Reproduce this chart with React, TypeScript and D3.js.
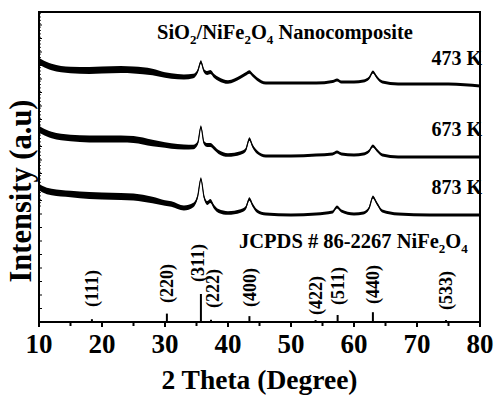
import React from 'react';
import * as d3 from 'd3';

// ---------- data ----------
const thetaGrid = [10, 10.5, 12, 15, 18, 20, 23, 25, 28, 30, 31, 33, 34.5, 35.2, 35.7, 36.2, 36.7, 37.2, 37.8, 38.5, 40, 42, 42.8, 43.4, 43.9, 44.6, 46, 50, 54, 56.6, 57.3, 58, 60, 61.5, 62.4, 63, 63.6, 64.5, 67, 72, 75, 80];
const int473 = [261, 259, 255, 252, 251.5, 252, 252.5, 252, 250, 247, 246, 245, 246, 251, 260, 251, 249, 250, 246, 243, 240, 245, 248, 250, 247, 243, 239, 239, 239, 240.5, 242, 240, 240, 241, 244, 250, 245, 240, 238, 238, 238, 236];
const int673 = [193, 191, 187, 184, 183, 183, 183, 182.5, 179, 177, 176, 175, 175, 179, 195, 179, 177, 177, 174, 170, 167, 169, 172, 183, 176, 170, 166, 166, 167, 168, 170, 168, 167, 168, 171, 176, 172, 167, 165, 165, 165, 165];
const int873 = [135, 133, 130, 128, 126.5, 126, 125.5, 125, 122, 119, 118, 114, 117, 126, 143, 125, 119, 121, 115, 111, 109, 111, 114, 123, 117, 111, 108, 107, 108, 110, 115, 111, 108, 109, 114, 125, 119, 111, 108, 107, 107, 107];
// half-width of the noise band
const noiseBand = [3.3, 3.3, 3.3, 3.3, 3.5, 3.5, 3.6, 3.5, 3.3, 2.8, 2.8, 2.6, 2.3, 1.8, 1.8, 1.8, 2, 2, 2, 1.9, 1.8, 1.8, 1.8, 1.8, 1.8, 1.8, 1.5, 1.5, 1.5, 1.5, 1.5, 1.5, 1.5, 1.5, 1.5, 1.5, 1.5, 1.5, 1.5, 1.5, 1.5, 1.5];
const seriesLabels = ['473 K', '673 K', '873 K'];

const hklLabels = ['(111)', '(220)', '(311)', '(222)', '(400)', '(422)', '(511)', '(440)', '(533)'];
const hklTheta = [18.4, 30.3, 35.7, 37.3, 43.4, 53.9, 57.4, 63.0, 74.6];
const hklIntensity = [10, 30, 100, 8, 21, 7, 25, 35, 7];

const xTickValues = [10, 20, 30, 40, 50, 60, 70, 80];
const xMinorTickValues = [15, 25, 35, 45, 55, 65, 75];

// ---------- layout ----------
const W = 494, H = 395;
const L = 39, R = 480, T = 12, B = 322;
const labelLift = [15, 19, 40, 14, 15, 7, 17, 18, 12];
const labelShift = [0, 0, -3, 1.5, 0, 0, 0, 0, 0];
const FONT = '"Liberation Serif", "Times New Roman", serif';

export default function App() {
  const x = d3.scaleLinear().domain([10, 80]).range([L, R]);
  const y = d3.scaleLinear().domain([0, 310]).range([B, T]);
  const stickY = d3.scaleLinear().domain([0, 100]).range([B, B - 28]);

  const seriesData = [int473, int673, int873];

  const area = (vals: number[]) =>
    d3.area<number>()
      .x((_, i) => x(thetaGrid[i]))
      .y0((v, i) => y(v - noiseBand[i]))
      .y1((v, i) => y(v + noiseBand[i]))
      .curve(d3.curveMonotoneX)(vals) || '';
  const line = (vals: number[]) =>
    d3.line<number>()
      .x((_, i) => x(thetaGrid[i]))
      .y((v) => y(v))
      .curve(d3.curveMonotoneX)(vals) || '';

  const yMajor = d3.range(0, 311, 13.5);
  const yMinor = d3.range(116, 311, 3.375);

  return (
    <svg width={W} height={H} style={{ position: 'absolute', left: 0, top: 0, background: '#fff' }} fontFamily={FONT} fontWeight="bold">
      <rect width={W} height={H} fill="#fff" />
      {/* traces */}
      {seriesData.map((vals, k) => (
        <g key={k}>
          <path d={area(vals)} fill="#000" />
          <path d={line(vals)} fill="none" stroke="#000" strokeWidth={1.2} />
        </g>
      ))}
      {/* series labels */}
      {seriesData.map((vals, k) => (
        <text key={k} x={R + 2} y={y(vals[vals.length - 1]) - 21} textAnchor="end" fontSize={20}>{seriesLabels[k]}</text>
      ))}
      {/* title */}
      <text x={157} y={39} fontSize={20.5}>
        SiO<tspan dy={5} fontSize={13}>2</tspan><tspan dy={-5}>/NiFe</tspan><tspan dy={5} fontSize={13}>2</tspan><tspan dy={-5}>O</tspan><tspan dy={5} fontSize={13}>4</tspan><tspan dy={-5}> Nanocomposite</tspan>
      </text>
      <text x={239} y={248} fontSize={20.5}>
        JCPDS # 86-2267 NiFe<tspan dy={5} fontSize={13}>2</tspan><tspan dy={-5}>O</tspan><tspan dy={5} fontSize={13}>4</tspan>
      </text>
      {/* sticks */}
      {hklTheta.map((t, i) => (
        <g key={i}>
          <line x1={x(t)} x2={x(t)} y1={B} y2={stickY(hklIntensity[i])} stroke="#000" strokeWidth={2} />
          <text transform={`translate(${x(t) + labelShift[i]},${B - labelLift[i]}) rotate(-90)`} dy="0.35em" fontSize={18}>{hklLabels[i]}</text>
        </g>
      ))}
      {/* y ticks (inside) */}
      {yMajor.map((v, i) => (
        <line key={'ym' + i} x1={L} x2={L + 3} y1={y(v)} y2={y(v)} stroke="#000" strokeWidth={1} />
      ))}
      {yMinor.map((v, i) => (
        <line key={'yn' + i} x1={L} x2={L + 2} y1={y(v)} y2={y(v)} stroke="#000" strokeWidth={0.8} />
      ))}
      {/* x ticks */}
      {xTickValues.map((v) => (
        <g key={'xt' + v}>
          <line x1={x(v)} x2={x(v)} y1={B} y2={B + 5} stroke="#000" strokeWidth={2} />
          <text x={x(v)} y={B + 31} textAnchor="middle" fontSize={27}>{v}</text>
        </g>
      ))}
      {xMinorTickValues.map((v) => (
        <line key={'xm' + v} x1={x(v)} x2={x(v)} y1={B} y2={B + 4} stroke="#000" strokeWidth={2} />
      ))}
      {/* frame */}
      <rect x={L} y={T} width={R - L} height={B - T} fill="none" stroke="#000" strokeWidth={2} />
      {/* axis titles */}
      <text x={(L + R) / 2} y={389} textAnchor="middle" fontSize={27.5}>2 Theta (Degree)</text>
      <text transform={`translate(31,191) rotate(-90)`} textAnchor="middle" fontSize={30.5}>Intensity (a.u)</text>
    </svg>
  );
}
